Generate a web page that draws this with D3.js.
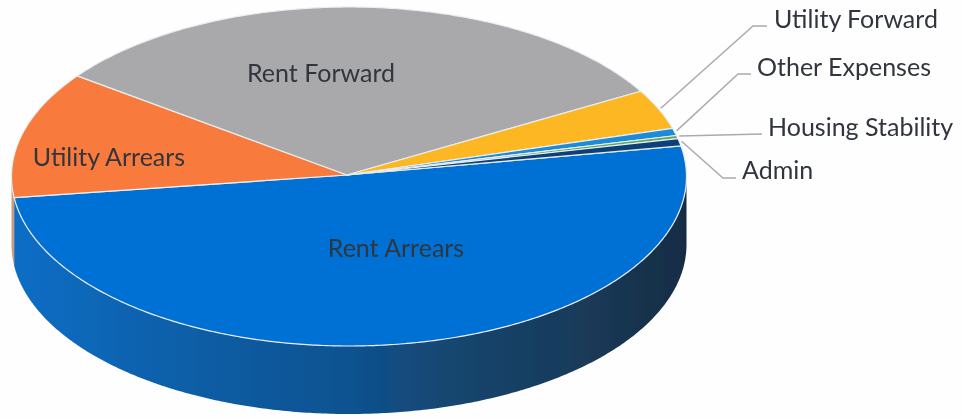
<!DOCTYPE html>
<html>
<head>
<meta charset="utf-8">
<script src="https://cdn.jsdelivr.net/npm/d3@7"></script>
<style>
  html, body { margin: 0; padding: 0; background: #fefefe; }
  svg { display: block; }
  text { font-family: Lato, sans-serif; fill: #30363c; }
</style>
</head>
<body>
<script>
// percent shares, clockwise from the Admin/Rent Arrears edge
var categories = ["Rent Arrears", "Utility Arrears", "Rent Forward", "Utility Forward", "Other Expenses", "Housing Stability", "Admin"];
var shares = [50.9, 12.1, 31.5, 3.8, 0.7, 0.3, 0.7];
var colors = ["#0571d4", "#f97a3d", "#a9a9ab", "#fdb722", "#1b8bd8", "#5fa85c", "#0f3f78"];
var wallColors = ["url(#wallBlue)", "#c99c7c", "#888", "#c08a1c", "#146aa8", "#457f45", "#0a2d56"];

var width = 962,
    height = 418;

var cx = 349, cy = 176.5, rx = 337.5, ry = 169.5, depth = 68;
var startAngle = 79.6 * Math.PI / 180;

var svg = d3.select("body").append("svg")
    .attr("width", width)
    .attr("height", height);

var defs = svg.append("defs");

var wallBlue = defs.append("linearGradient")
    .attr("id", "wallBlue")
    .attr("gradientUnits", "userSpaceOnUse")
    .attr("x1", 10).attr("x2", 688).attr("y1", 0).attr("y2", 0);

[[0, "#0e6ec6"], [0.25, "#0e5fa8"], [0.5, "#0f5290"], [0.65, "#15466f"], [0.85, "#1a3a58"], [1, "#172c44"]].forEach(function(s) {
  wallBlue.append("stop").attr("offset", s[0]).attr("stop-color", s[1]);
});

defs.append("filter").attr("id", "scan")
  .append("feGaussianBlur").attr("stdDeviation", 0.6);
defs.append("filter").attr("id", "scanText")
  .append("feGaussianBlur").attr("stdDeviation", 0.35);

var pie = d3.pie()
    .sort(null)
    .startAngle(startAngle)
    .endAngle(startAngle + 2 * Math.PI);

var slices = pie(shares);

function px(t) { return cx + rx * Math.sin(t); }
function py(t) { return cy - ry * Math.cos(t); }

var line = d3.line();

function rimPoints(a0, a1, dy) {
  var n = Math.max(2, Math.ceil((a1 - a0) / 0.01));
  return d3.range(n + 1).map(function(i) {
    var t = a0 + (a1 - a0) * i / n;
    return [px(t), py(t) + (dy || 0)];
  });
}

var chart = svg.append("g").attr("filter", "url(#scan)");

// side wall, only the front half of the rim shows
slices.forEach(function(d, i) {
  var a0 = Math.max(d.startAngle, Math.PI / 2),
      a1 = Math.min(d.endAngle, 3 * Math.PI / 2);
  if (a1 <= a0) return;
  var pts = rimPoints(a0, a1, 0).concat(rimPoints(a0, a1, depth).reverse());
  chart.append("path")
      .attr("d", line(pts) + "Z")
      .attr("fill", wallColors[i]);
});

// top face
chart.selectAll("path.slice")
    .data(slices)
  .enter().append("path")
    .attr("class", "slice")
    .attr("d", function(d) {
      return line([[cx - 2, cy - 1.5]].concat(rimPoints(d.startAngle, d.endAngle))) + "Z";
    })
    .attr("fill", function(d, i) { return colors[i]; })
    .attr("stroke", "#e8eef2")
    .attr("stroke-width", 1.2)
    .attr("stroke-linejoin", "round");

// inside labels
var insideLabels = [
  { name: categories[0], x: 396, y: 257 },
  { name: categories[1], x: 109, y: 166 },
  { name: categories[2], x: 321, y: 82 }
];

var labels = svg.append("g").attr("filter", "url(#scanText)");

labels.selectAll("text.inside")
    .data(insideLabels)
  .enter().append("text")
    .attr("class", "inside")
    .attr("x", function(d) { return d.x; })
    .attr("y", function(d) { return d.y; })
    .attr("text-anchor", "middle")
    .attr("font-size", 25)
    .text(function(d) { return d.name; });

// outside labels with leader lines: slice index, text spot, elbow, line end
var outsideLabels = [
  { slice: 3, x: 774, y: 28, elbow: [753, 26], end: [767, 26] },
  { slice: 4, x: 757, y: 76, elbow: [738, 74], end: [751, 74] },
  { slice: 5, x: 768, y: 136, elbow: null, end: [762, 134] },
  { slice: 6, x: 742, y: 179, elbow: [723, 178], end: [736, 178] }
];

outsideLabels.forEach(function(d) {
  var s = slices[d.slice],
      mid = (s.startAngle + s.endAngle) / 2,
      from = [px(mid) + 2, py(mid) - 1];
  var pts = d.elbow ? [from, d.elbow, d.end] : [from, d.end];

  labels.append("path")
      .attr("d", line(pts))
      .attr("fill", "none")
      .attr("stroke", "#a9abad")
      .attr("stroke-width", 1.5);

  labels.append("text")
      .attr("x", d.x)
      .attr("y", d.y)
      .attr("font-size", 25)
      .text(categories[d.slice]);
});
</script>
</body>
</html>
